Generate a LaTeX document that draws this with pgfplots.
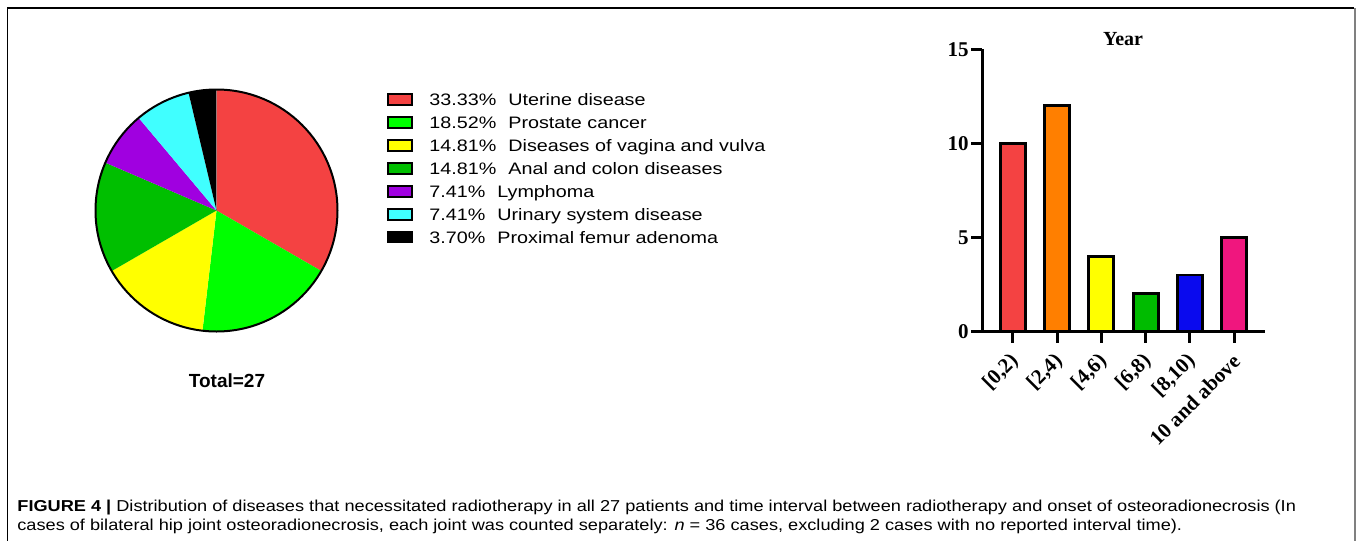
\documentclass[border=0pt]{standalone}
\usepackage{fontspec}
\setmainfont{Liberation Sans}
\newfontfamily\legfont{Liberation Sans}[FakeStretch=1.19]
\newfontfamily\capfont{Liberation Sans}[FakeStretch=1.15]
\newfontfamily\timesfont{Liberation Serif}
\usepackage{pgfplots}
\usepackage{pgfplotstable}
\pgfplotsset{compat=1.18}

\definecolor{pieRed}{HTML}{F44242}
\definecolor{pieGreen}{HTML}{00FF00}
\definecolor{pieYellow}{HTML}{FFFF00}
\definecolor{pieDkGreen}{HTML}{00BF00}
\definecolor{piePurple}{HTML}{A000E0}
\definecolor{pieCyan}{HTML}{40FFFF}
\definecolor{barOrange}{HTML}{FF7F00}
\definecolor{barGreen}{HTML}{00BB00}
\definecolor{barBlue}{HTML}{0A0AEE}
\definecolor{barPink}{HTML}{F0167E}

\pgfplotstableread{
pct col
33.33 pieRed
18.52 pieGreen
14.81 pieYellow
14.81 pieDkGreen
7.41 piePurple
7.41 pieCyan
3.70 black
}\piedata

\begin{document}
\begin{tikzpicture}[x=0.5pt,y=-0.5pt]
\useasboundingbox (0,0) rectangle (1357,541);
\coordinate (pieC) at (216.5,210.5);
\coordinate (barO) at (982,331.5);
% frame
\draw[line width=0.7pt] (7.5,560) -- (7.5,8) -- (1354,8);
\draw[gray, line width=1pt] (1355,8) -- (1355,560);

% pie chart
\begin{axis}[at={(pieC)}, anchor=center, x=0.5pt, y=0.5pt,
  xmin=-121, xmax=121, ymin=-121, ymax=121, hide axis, clip=false]
\gdef\curang{90}
\pgfplotsforeachungrouped \i in {0,...,6}{%
  \pgfplotstablegetelem{\i}{pct}\of\piedata
  \pgfmathsetmacro\nextang{\curang-3.6*\pgfplotsretval}%
  \pgfplotstablegetelem{\i}{col}\of\piedata
  \edef\pieslice{\noexpand\fill[\pgfplotsretval] (axis cs:0,0) -- (axis cs:{121*cos(\curang)},{121*sin(\curang)}) arc[start angle=\curang, end angle=\nextang, radius=60.5pt] -- cycle;}%
  \pieslice
  \xdef\curang{\nextang}%
}
\draw[line width=1pt] (axis cs:0,0) circle[radius=60.5pt];
\end{axis}

% legend
\foreach \col/\txt [count=\k from 0] in {
  pieRed/{33.33\%\hspace{6pt}Uterine disease},
  pieGreen/{18.52\%\hspace{6pt}Prostate cancer},
  pieYellow/{14.81\%\hspace{6pt}Diseases of vagina and vulva},
  pieDkGreen/{14.81\%\hspace{6pt}Anal and colon diseases},
  piePurple/{7.41\%\hspace{6pt}Lymphoma},
  pieCyan/{7.41\%\hspace{6pt}Urinary system disease},
  black/{3.70\%\hspace{6pt}Proximal femur adenoma}}{
  \filldraw[fill=\col, draw=black, line width=0.8pt] (388,{94.2+22.9*\k}) rectangle (412,{105.2+22.9*\k});
  \node[anchor=base west, inner sep=0, font=\legfont\fontsize{8.3}{10}\selectfont] at (429,{105.7+22.9*\k}) {\txt};
}

\node[font=\bfseries\fontsize{9.5}{11}\selectfont] at (227,381) {Total=27};

% bar chart
\begin{axis}[at={(barO)}, anchor=south west, scale only axis,
  width=141.5pt, height=141.1pt,
  xmin=-0.7, xmax=5.7, ymin=0, ymax=15,
  axis lines=left, axis line style={-, line width=1.5pt, black},
  ytick={0,5,10,15}, xtick={0,1,2,3,4,5},
  xticklabels={{[0,2)},{[2,4)},{[4,6)},{[6,8)},{[8,10)},{10 and above}},
  tick align=outside, major tick length=5.5pt,
  tick style={black, line width=1.5pt},
  tick label style={font=\timesfont\bfseries\fontsize{10.5}{12}\selectfont},
  /pgf/number format/assume math mode=true,
  yticklabel style={inner sep=1pt},
  xticklabel shift=7pt,
  xticklabel style={xshift=2pt, rotate=45, anchor=east, inner sep=1pt},
  clip=false]
\addplot[ybar, bar shift=0pt, bar width=12.5pt, fill=pieRed, draw=black, line width=1.4pt] coordinates {(0,10)};
\addplot[ybar, bar shift=0pt, bar width=12.5pt, fill=barOrange, draw=black, line width=1.4pt] coordinates {(1,12)};
\addplot[ybar, bar shift=0pt, bar width=12.5pt, fill=pieYellow, draw=black, line width=1.4pt] coordinates {(2,4)};
\addplot[ybar, bar shift=0pt, bar width=12.5pt, fill=barGreen, draw=black, line width=1.4pt] coordinates {(3,2)};
\addplot[ybar, bar shift=0pt, bar width=12.5pt, fill=barBlue, draw=black, line width=1.4pt] coordinates {(4,3)};
\addplot[ybar, bar shift=0pt, bar width=12.5pt, fill=barPink, draw=black, line width=1.4pt] coordinates {(5,5)};
\end{axis}
\node[font=\timesfont\bfseries\fontsize{10}{12}\selectfont] at (1123,39) {Year};

% caption
\node[anchor=base west, inner sep=0, font=\capfont\fontsize{7.9}{10}\selectfont] at (17,511.7) {\textbf{FIGURE 4 |} Distribution of diseases that necessitated radiotherapy in all 27 patients and time interval between radiotherapy and onset of osteoradionecrosis (In};
\node[anchor=base west, inner sep=0, font=\capfont\fontsize{7.9}{10}\selectfont] at (17,530) {cases of bilateral hip joint osteoradionecrosis, each joint was counted separately: \textit{n} = 36 cases, excluding 2 cases with no reported interval time).};
\end{tikzpicture}
\end{document}
